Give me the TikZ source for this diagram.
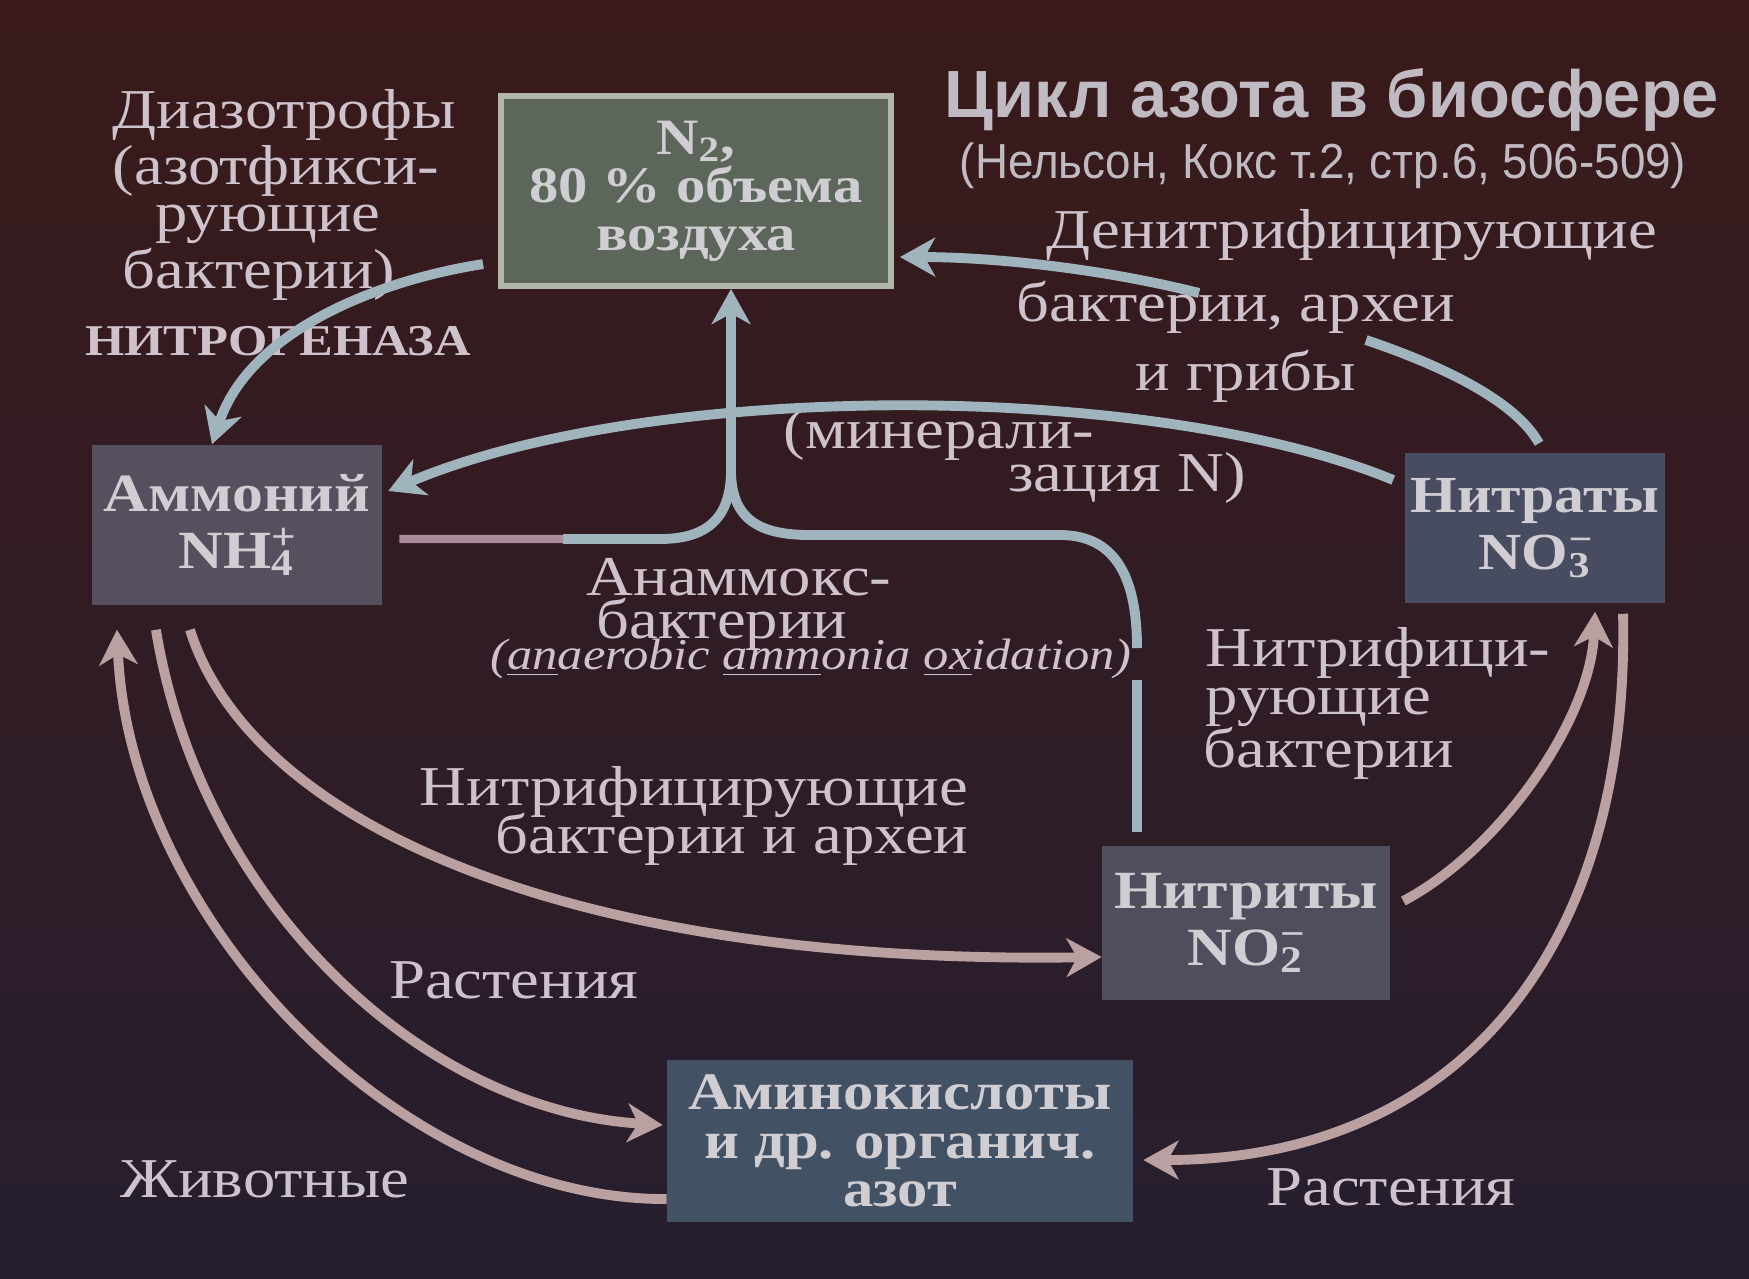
\documentclass[tikz,border=0pt]{standalone}
\usepackage{fontspec}
\setmainfont{Liberation Serif}[FakeStretch=1.15]
\newfontfamily\titlefont{Liberation Sans}
\usetikzlibrary{arrows.meta}
\definecolor{bgtop}{RGB}{58,26,26}
\definecolor{bgmid}{RGB}{62,17,38}
\definecolor{bgbot}{RGB}{38,30,46}
\definecolor{labcol}{RGB}{206,194,204}
\definecolor{titlecol}{RGB}{192,186,194}
\definecolor{bluec}{RGB}{160,180,190}
\definecolor{pinkc}{RGB}{186,160,160}
\definecolor{pinkdim}{RGB}{170,138,155}
\definecolor{boxtext}{RGB}{208,206,210}
\definecolor{ntwofill}{RGB}{92,102,90}
\definecolor{ntwoline}{RGB}{176,182,172}
\definecolor{ammfill}{RGB}{86,80,94}
\definecolor{natfill}{RGB}{72,76,96}
\definecolor{nitfill}{RGB}{80,78,92}
\definecolor{aminofill}{RGB}{66,82,100}
\begin{document}
\begin{tikzpicture}[x=0.01cm,y=-0.01cm,
  boxnode/.style={inner sep=0pt, align=center, text=boxtext, font=\bfseries\fontsize{15.3}{16.2}\selectfont},
  lab/.style={inner sep=0pt, anchor=base, text=labcol, font=\fontsize{16}{15}\selectfont},
  labw/.style={lab, anchor=base west},
  tipstyle/.style={-{Stealth[length=10pt,width=11pt,inset=3pt]}},
  bluearr/.style={draw=bluec, line width=2.8pt, tipstyle},
  blueline/.style={draw=bluec, line width=2.8pt},
  pinkarr/.style={draw=pinkc, line width=2.8pt, tipstyle},
]
\useasboundingbox (0,0) rectangle (1749,1278);
\shade[top color=bgtop, middle color=bgmid, bottom color=bgbot] (0,0) rectangle (1749,1278);

% ---------- labels ----------
\node[lab] (d1) at (284,128) {Диазотрофы};
\node[lab] (d2) at (276,184) {(азотфикси-};
\node[lab] (d3) at (268,231) {рующие};
\node[lab] (d4) at (259,288) {бактерии)};
\node[lab, font=\bfseries\fontsize{12.5}{14}\selectfont] (d5) at (278,355) {НИТРОГЕНАЗА};

\node[lab, text=titlecol, font=\titlefont\bfseries\fontsize{19}{22}\selectfont] (title) at (1332,117) {Цикл азота в биосфере};
\node[lab, text=titlecol, font=\titlefont\fontsize{14}{16}\selectfont] (sub) at (1323,178) {\scalebox{0.93}[1]{(Нельсон, Кокс т.2, стр.6, 506-509)}};

\node[lab] (den1) at (1352,248) {Денитрифицирующие};
\node[lab] (den2) at (1236,321) {бактерии, археи};
\node[lab] (den3) at (1246,390) {и грибы};

\node[lab] (min1) at (939,448) {(минерали-};
\node[lab] (min2) at (1127,491) {зация N)};

\node[lab] (an1) at (739,595) {Анаммокс-};
\node[lab] (an2) at (722,638) {бактерии};
\node[lab, font=\itshape\fontsize{12.5}{14}\selectfont] (an3) at (811,669) {(\underline{an}aerobic \underline{amm}onia \underline{ox}idation)};

\node[labw] (nb1) at (1205,666) {Нитрифици-};
\node[labw] (nb2) at (1205,714) {рующие};
\node[labw] (nb3) at (1203,767) {бактерии};

\node[lab] (na1) at (694,805) {Нитрифицирующие};
\node[lab] (na2) at (732,853) {бактерии и археи};

\node[lab] (pl1) at (514,998) {Растения};
\node[lab] (an) at (265,1197) {Животные};
\node[lab] (pl2) at (1391,1205) {Растения};

% ---------- boxes ----------
\node[boxnode, fill=ntwofill, draw=ntwoline, line width=1.6pt, minimum width=3.9cm, minimum height=1.9cm,
      font=\bfseries\fontsize{14.5}{13.6}\selectfont] (n2) at (696,191) {N\textsubscript{2},\\80 \% объема\\воздуха};
\node[boxnode, fill=ammfill, minimum width=2.89cm, minimum height=1.6cm] (amm) at (237,525)
      {Аммоний\\NH\rlap{\textsuperscript{+}}\textsubscript{4}};
\node[boxnode, fill=natfill, minimum width=2.6cm, minimum height=1.5cm,
      font=\bfseries\fontsize{14.8}{16.2}\selectfont] (nat) at (1535,528)
      {Нитраты\\NO\rlap{\textsuperscript{−}}\textsubscript{3}};
\node[boxnode, fill=nitfill, minimum width=2.87cm, minimum height=1.53cm] (nitr) at (1246,923)
      {Нитриты\\NO\rlap{\textsuperscript{−}}\textsubscript{2}};
\node[boxnode, fill=aminofill, minimum width=4.65cm, minimum height=1.62cm,
      font=\bfseries\fontsize{15}{13.8}\selectfont] (amino) at (900,1141)
      {Аминокислоты\\и др. органич.\\азот};

% ---------- connectors ----------
% nitrogen fixation
\draw[bluearr] ([xshift=-0.15cm,yshift=-0.73cm]n2.west) .. controls (380,280) and (250,330) .. ([xshift=-0.25cm]amm.north);
% denitrification (interrupted by its label)
\coordinate (dg1) at (1199,293);
\coordinate (dg2) at (1366,340);
\draw[bluearr] (dg1) .. controls (1100,268) and (990,257) .. ([xshift=0.06cm,yshift=-0.66cm]n2.east);
\draw[blueline] ([xshift=0.04cm,yshift=0.09cm]nat.north) .. controls (1515,400) and (1440,365) .. (dg2);
% mineralization
\draw[bluearr] ([xshift=-0.11cm,yshift=0.48cm]nat.west) .. controls (1150,380) and (650,380) .. ([xshift=0.06cm,yshift=0.34cm]amm.east);
% anammox
\coordinate (jn) at (731,470);
\coordinate (ax1) at (563,539);
\coordinate (ax2) at (1137,648);
\coordinate (ax3) at (1137,680);
\draw[draw=pinkdim, line width=2.4pt] ([xshift=0.17cm,yshift=-0.14cm]amm.east) -- (ax1);
\draw[blueline] (ax1) -- (660,539) .. controls (705,539) and (731,520) .. (jn);
\draw[blueline] (jn) .. controls (731,520) and (760,535) .. (810,535) -- (1060,535) .. controls (1120,535) and (1137,585) .. (ax2);
\draw[blueline] (ax3) -- ([xshift=-1.09cm,yshift=0.14cm]nitr.north);
\draw[bluearr] (jn) -- ([xshift=0.35cm]n2.south);
% nitrification NH4 -> NO2
\draw[pinkarr] ([xshift=-0.47cm,yshift=-0.24cm]amm.south) .. controls (250,820) and (560,965) .. ([yshift=-0.34cm]nitr.west);
% NO2 -> NO3
\draw[pinkarr] ([xshift=0.13cm,yshift=0.22cm]nitr.east) .. controls (1500,850) and (1590,720) .. ([xshift=0.6cm,yshift=-0.08cm]nat.south);
% plants (ammonium)
\draw[pinkarr] ([xshift=-0.81cm,yshift=-0.24cm]amm.south) .. controls (200,900) and (420,1110) .. ([xshift=-0.04cm,yshift=0.16cm]amino.west);
% animals
\draw[pinkarr] ([yshift=-0.58cm]amino.west) .. controls (400,1200) and (130,920) .. ([xshift=-1.2cm,yshift=-0.24cm]amm.south);
% plants (nitrates)
\draw[pinkarr] ([xshift=0.88cm,yshift=-0.1cm]nat.south) .. controls (1630,960) and (1450,1160) .. ([xshift=0.1cm,yshift=-0.19cm]amino.east);
\end{tikzpicture}
\end{document}
